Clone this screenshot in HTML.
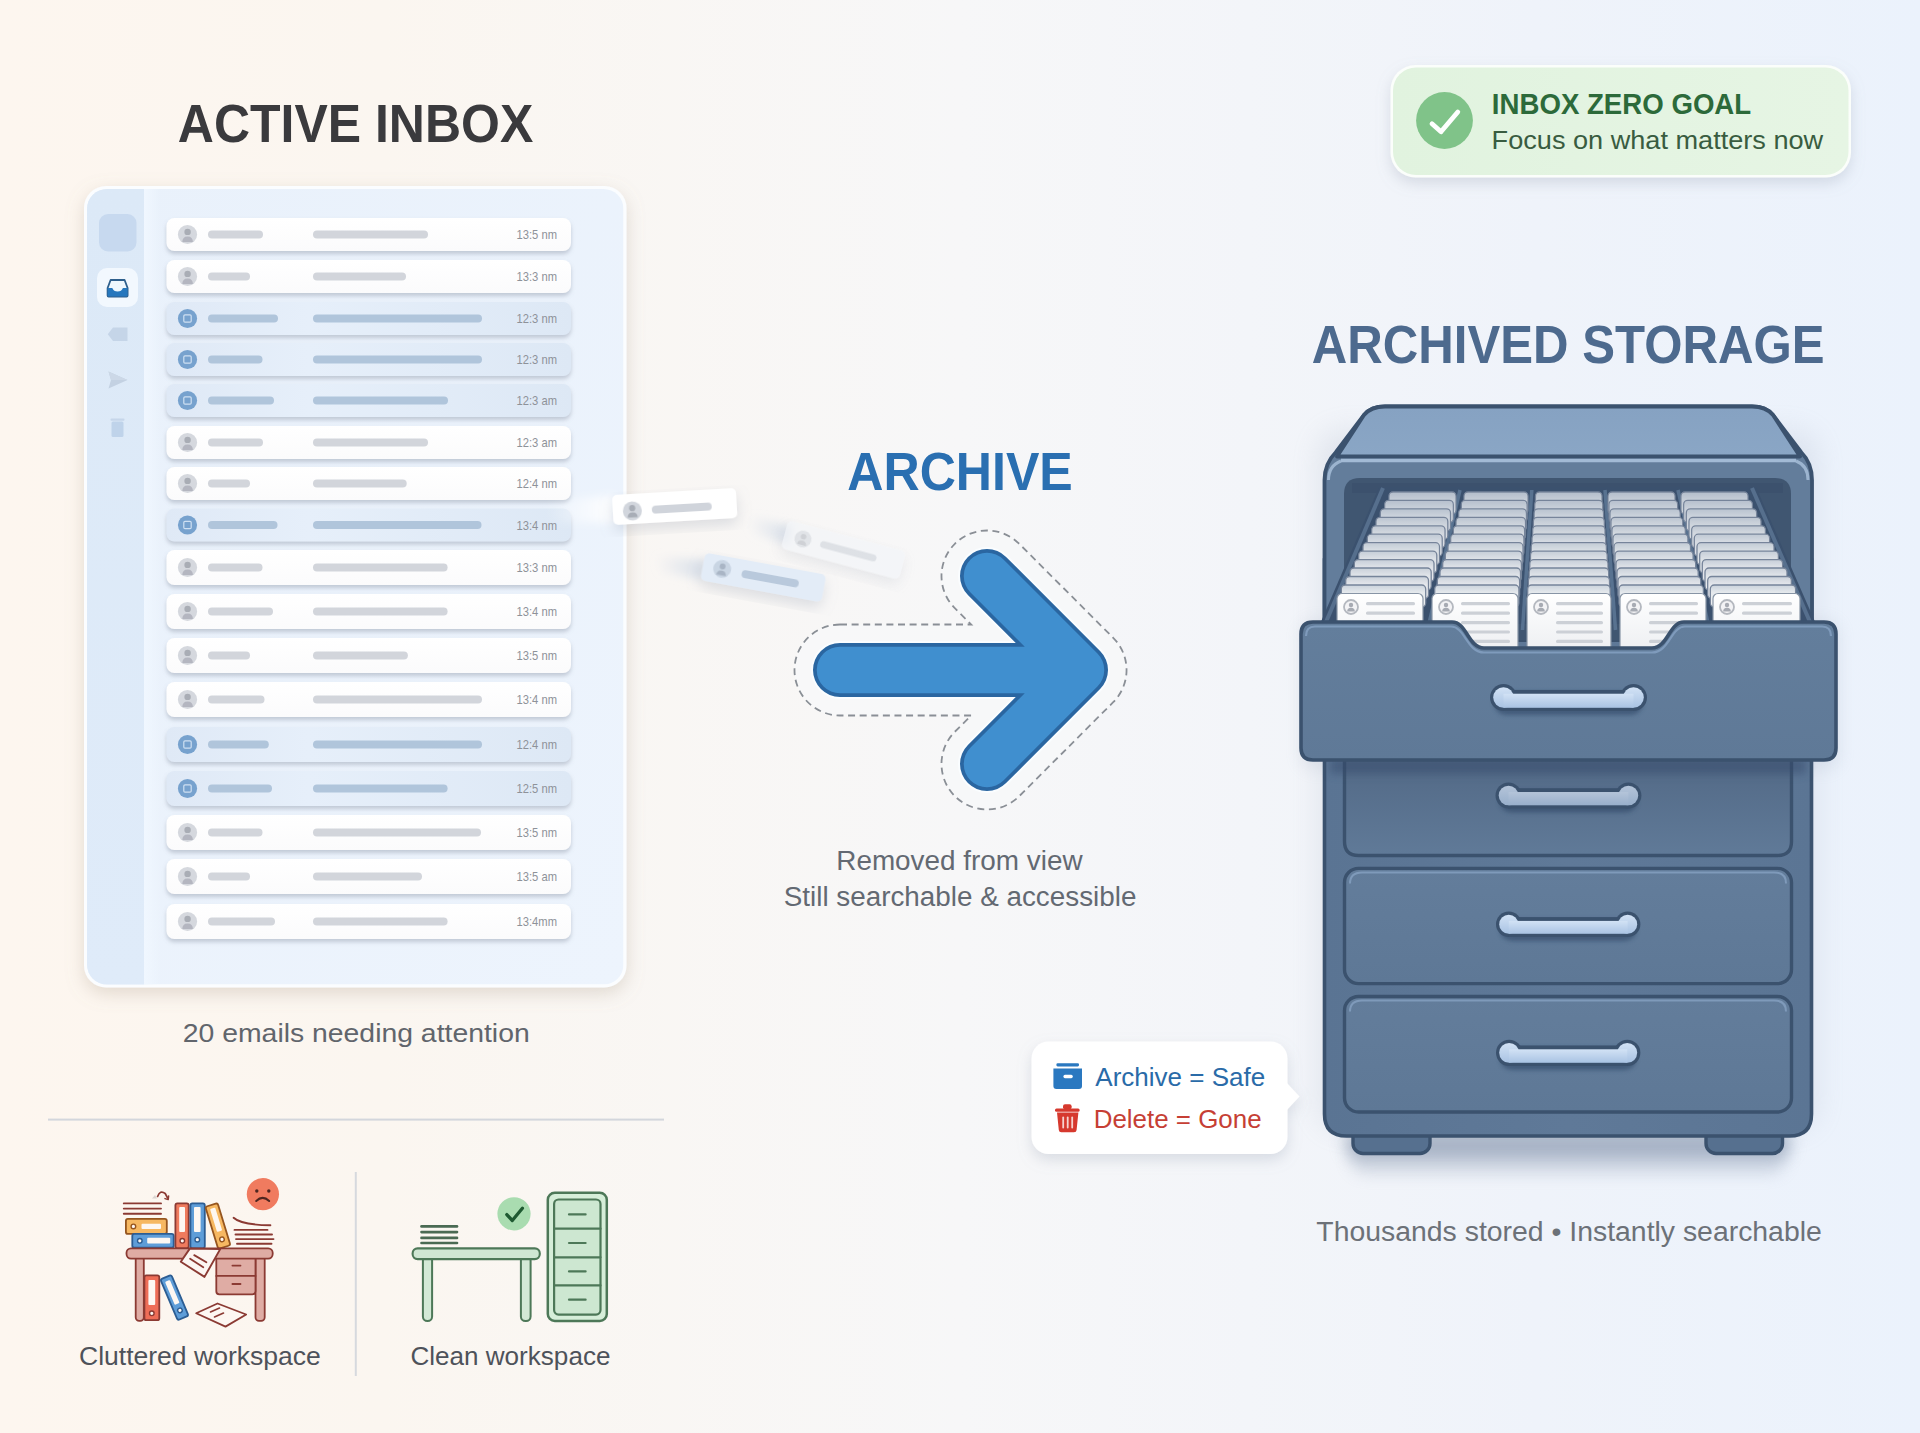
<!DOCTYPE html>
<html><head><meta charset='utf-8'><title>Archive vs Inbox</title>
<style>
html,body{margin:0;padding:0;width:1920px;height:1433px;overflow:hidden;background:#f7f7f8;}
svg{display:block;font-family:'Liberation Sans', sans-serif;}
</style></head><body>
<svg width='1920' height='1433' viewBox='0 0 1920 1433'>
<defs>
<linearGradient id='bg' x1='0' y1='0' x2='1' y2='0'>
 <stop offset='0' stop-color='#fdf6ef'/>
 <stop offset='0.2' stop-color='#fbf6f0'/>
 <stop offset='0.5' stop-color='#f7f7f8'/>
 <stop offset='0.8' stop-color='#eff3fa'/>
 <stop offset='1' stop-color='#ebf2fc'/>
</linearGradient>
<linearGradient id='panelg' x1='0' y1='0' x2='1' y2='1'>
 <stop offset='0' stop-color='#e9f1fb'/>
 <stop offset='1' stop-color='#edf4fd'/>
</linearGradient>
<linearGradient id='rowW' x1='0' y1='0' x2='0' y2='1'>
 <stop offset='0' stop-color='#ffffff'/>
 <stop offset='1' stop-color='#fbfbfc'/>
</linearGradient>
<linearGradient id='rowB' x1='0' y1='0' x2='1' y2='0'>
 <stop offset='0' stop-color='#dfe9f6'/>
 <stop offset='0.35' stop-color='#e6effa'/>
 <stop offset='1' stop-color='#dde8f5'/>
</linearGradient>
<filter id='rowsh' x='-10%' y='-50%' width='120%' height='220%'>
 <feGaussianBlur in='SourceAlpha' stdDeviation='2.2'/>
 <feOffset dy='3' result='b'/>
 <feFlood flood-color='#858fa0' flood-opacity='0.42'/>
 <feComposite in2='b' operator='in'/>
 <feMerge><feMergeNode/><feMergeNode in='SourceGraphic'/></feMerge>
</filter>
<filter id='cardsh' x='-20%' y='-20%' width='140%' height='150%'>
 <feGaussianBlur in='SourceAlpha' stdDeviation='9'/>
 <feOffset dy='6' result='b'/>
 <feFlood flood-color='#a39480' flood-opacity='0.3'/>
 <feComposite in2='b' operator='in'/>
 <feMerge><feMergeNode/><feMergeNode in='SourceGraphic'/></feMerge>
</filter>
<filter id='softsh' x='-20%' y='-30%' width='140%' height='170%'>
 <feGaussianBlur in='SourceAlpha' stdDeviation='7'/>
 <feOffset dy='6' result='b'/>
 <feFlood flood-color='#8f99ab' flood-opacity='0.28'/>
 <feComposite in2='b' operator='in'/>
 <feMerge><feMergeNode/><feMergeNode in='SourceGraphic'/></feMerge>
</filter>
<filter id='blur2' x='-50%' y='-100%' width='200%' height='300%'><feGaussianBlur stdDeviation='2'/></filter>
<filter id='blur4' x='-50%' y='-200%' width='200%' height='500%'><feGaussianBlur stdDeviation='4'/></filter>
<filter id='blur8' x='-50%' y='-200%' width='200%' height='500%'><feGaussianBlur stdDeviation='8'/></filter>
<filter id='blur14' x='-50%' y='-300%' width='200%' height='700%'><feGaussianBlur stdDeviation='14'/></filter>
<linearGradient id='badgeg' x1='0' y1='0' x2='1' y2='0'>
 <stop offset='0' stop-color='#e1f3df'/>
 <stop offset='1' stop-color='#e6f5e4'/>
</linearGradient>
<linearGradient id='lidg' x1='0' y1='0' x2='0' y2='1'>
 <stop offset='0' stop-color='#86a2c2'/>
 <stop offset='1' stop-color='#8aa6c5'/>
</linearGradient>
<linearGradient id='bodyg' x1='0' y1='0' x2='1' y2='0'>
 <stop offset='0' stop-color='#5a7493'/>
 <stop offset='0.5' stop-color='#5f7998'/>
 <stop offset='1' stop-color='#5b7594'/>
</linearGradient>
<linearGradient id='drawg' x1='0' y1='0' x2='0' y2='1'>
 <stop offset='0' stop-color='#637e9c'/>
 <stop offset='1' stop-color='#5f7997'/>
</linearGradient>
<linearGradient id='d2g' x1='0' y1='0' x2='0' y2='1'>
 <stop offset='0' stop-color='#4a5f7b'/>
 <stop offset='1' stop-color='#607a98'/>
</linearGradient>
<linearGradient id='panelD' x1='0' y1='0' x2='0' y2='1'>
 <stop offset='0' stop-color='#637d9b'/>
 <stop offset='1' stop-color='#5e7896'/>
</linearGradient>
<linearGradient id='handleg' x1='0' y1='0' x2='0' y2='1'>
 <stop offset='0' stop-color='#d2e2f5'/>
 <stop offset='1' stop-color='#a9c3e3'/>
</linearGradient>
<linearGradient id='handleg2' x1='0' y1='0' x2='0' y2='1'>
 <stop offset='0' stop-color='#b4c4d9'/>
 <stop offset='1' stop-color='#98afcb'/>
</linearGradient>
<linearGradient id='cardg' x1='0' y1='0' x2='0' y2='1'>
 <stop offset='0' stop-color='#cdd4dd'/>
 <stop offset='0.35' stop-color='#e7eaee'/>
 <stop offset='1' stop-color='#f1f2f4'/>
</linearGradient>
<linearGradient id='frontcard' x1='0' y1='0' x2='0' y2='1'>
 <stop offset='0' stop-color='#ffffff'/>
 <stop offset='1' stop-color='#eceef1'/>
</linearGradient>
<linearGradient id='arrowg' x1='0' y1='0' x2='0' y2='1'>
 <stop offset='0' stop-color='#3f8ed0'/>
 <stop offset='1' stop-color='#3c8bcc'/>
</linearGradient>
</defs>
<rect x='0' y='0' width='1920' height='1433' fill='url(#bg)'/>
<text x='177.81' y='141.7' font-size='53.2' font-weight='bold' fill='#3a3a3d' textLength='355.44' lengthAdjust='spacingAndGlyphs' >ACTIVE INBOX</text>
<g filter='url(#cardsh)'>
<rect x='84' y='186' width='542.5' height='801.5' rx='22' fill='#fbfdff'/>
</g>
<clipPath id='pclip'><rect x='87' y='189' width='536.5' height='795.5' rx='20'/></clipPath>
<g clip-path='url(#pclip)'>
<rect x='87' y='189' width='536.5' height='795.5' fill='url(#panelg)'/>
<linearGradient id='sideg' x1='0' y1='0' x2='0' y2='1'><stop offset='0' stop-color='#dce9f7'/><stop offset='1' stop-color='#dfebf9'/></linearGradient>
<linearGradient id='stripg' x1='0' y1='0' x2='1' y2='0'><stop offset='0' stop-color='#f0f7ff'/><stop offset='1' stop-color='#f0f7ff' stop-opacity='0'/></linearGradient>
<rect x='87' y='189' width='57' height='796' fill='url(#sideg)'/>
<rect x='144' y='189' width='16' height='796' fill='url(#stripg)'/>
</g>
<rect x='99' y='214' width='37.5' height='37.5' rx='9' fill='#c7d9ef'/>
<rect x='97' y='268' width='41' height='39' rx='10' fill='#f2f8fe'/>
<path d='M110.6 280 L124.6 280 L127.6 288 L127.6 295.5 Q127.6 296.5 126.6 296.5 L108.6 296.5 Q107.6 296.5 107.6 295.5 L107.6 288 Z' fill='#eef7fd' stroke='#2e5f8c' stroke-width='1.8' stroke-linejoin='round'/>
<path d='M107.6 288 L112.3 288 Q113.6 291.6 117.6 291.6 Q121.6 291.6 122.9 288 L127.6 288 L127.6 295.5 Q127.6 296.5 126.6 296.5 L108.6 296.5 Q107.6 296.5 107.6 295.5 Z' fill='#2677bd'/>
<path d='M113 327.5 L127.5 327.5 L127.5 341 L113 341 L107.8 334.2 Z' fill='#c5d5e8'/>
<path d='M108.5 371.5 L127.5 380 L108.5 388.5 L111 380 Z' fill='#c3d1e2'/>
<path d='M108.5 371.5 L127.5 380 L111 380 Z' fill='#ccd8e7'/>
<rect x='110.5' y='418.5' width='14' height='2.2' rx='1' fill='#c6d6ea'/>
<rect x='111.5' y='421.5' width='12' height='15.5' rx='1.5' fill='#bfd3ea'/>
<g filter='url(#rowsh)'>
<rect x='166.5' y='218' width='404.5' height='33' rx='8' fill='url(#rowW)'/>
</g>
<circle cx='187.5' cy='234.5' r='9.6' fill='#d5d8de'/>
<circle cx='187.6' cy='231.9' r='3.2' fill='#a9adb5'/>
<path d='M182.3 242.1 Q182.3 236.5 187.6 236.5 Q192.9 236.5 192.9 242.1 Z' fill='#b4b6c0'/>
<rect x='208' y='230.5' width='55' height='8' rx='4' fill='#d2d5db'/>
<rect x='313' y='230.5' width='115' height='8' rx='4' fill='#d2d5db'/>
<text x='557' y='239.1' font-size='12.4' fill='#8e9299' text-anchor='end' textLength='40.5' lengthAdjust='spacingAndGlyphs'>13:5 nm</text>
<g filter='url(#rowsh)'>
<rect x='166.5' y='260' width='404.5' height='33' rx='8' fill='url(#rowW)'/>
</g>
<circle cx='187.5' cy='276.5' r='9.6' fill='#d5d8de'/>
<circle cx='187.6' cy='273.9' r='3.2' fill='#a9adb5'/>
<path d='M182.3 284.1 Q182.3 278.5 187.6 278.5 Q192.9 278.5 192.9 284.1 Z' fill='#b4b6c0'/>
<rect x='208' y='272.5' width='42' height='8' rx='4' fill='#d2d5db'/>
<rect x='313' y='272.5' width='93' height='8' rx='4' fill='#d2d5db'/>
<text x='557' y='281.1' font-size='12.4' fill='#8e9299' text-anchor='end' textLength='40.5' lengthAdjust='spacingAndGlyphs'>13:3 nm</text>
<g filter='url(#rowsh)'>
<rect x='166.5' y='302' width='404.5' height='33' rx='8' fill='url(#rowB)'/>
</g>
<circle cx='187.5' cy='318.5' r='9.6' fill='#77a2ce'/>
<rect x='183.8' y='314.9' width='7.4' height='7.2' rx='1.2' fill='none' stroke='#cfe0f2' stroke-width='1.2'/>
<rect x='208' y='314.5' width='70' height='8' rx='4' fill='#b0c5db'/>
<rect x='313' y='314.5' width='169' height='8' rx='4' fill='#b0c5db'/>
<text x='557' y='323.1' font-size='12.4' fill='#8e9299' text-anchor='end' textLength='40.5' lengthAdjust='spacingAndGlyphs'>12:3 nm</text>
<g filter='url(#rowsh)'>
<rect x='166.5' y='343' width='404.5' height='33' rx='8' fill='url(#rowB)'/>
</g>
<circle cx='187.5' cy='359.5' r='9.6' fill='#77a2ce'/>
<rect x='183.8' y='355.9' width='7.4' height='7.2' rx='1.2' fill='none' stroke='#cfe0f2' stroke-width='1.2'/>
<rect x='208' y='355.5' width='54.5' height='8' rx='4' fill='#b0c5db'/>
<rect x='313' y='355.5' width='169' height='8' rx='4' fill='#b0c5db'/>
<text x='557' y='364.1' font-size='12.4' fill='#8e9299' text-anchor='end' textLength='40.5' lengthAdjust='spacingAndGlyphs'>12:3 nm</text>
<g filter='url(#rowsh)'>
<rect x='166.5' y='384' width='404.5' height='33' rx='8' fill='url(#rowB)'/>
</g>
<circle cx='187.5' cy='400.5' r='9.6' fill='#77a2ce'/>
<rect x='183.8' y='396.9' width='7.4' height='7.2' rx='1.2' fill='none' stroke='#cfe0f2' stroke-width='1.2'/>
<rect x='208' y='396.5' width='66' height='8' rx='4' fill='#b0c5db'/>
<rect x='313' y='396.5' width='135' height='8' rx='4' fill='#b0c5db'/>
<text x='557' y='405.1' font-size='12.4' fill='#8e9299' text-anchor='end' textLength='40.5' lengthAdjust='spacingAndGlyphs'>12:3 am</text>
<g filter='url(#rowsh)'>
<rect x='166.5' y='426' width='404.5' height='33' rx='8' fill='url(#rowW)'/>
</g>
<circle cx='187.5' cy='442.5' r='9.6' fill='#d5d8de'/>
<circle cx='187.6' cy='439.9' r='3.2' fill='#a9adb5'/>
<path d='M182.3 450.1 Q182.3 444.5 187.6 444.5 Q192.9 444.5 192.9 450.1 Z' fill='#b4b6c0'/>
<rect x='208' y='438.5' width='55' height='8' rx='4' fill='#d2d5db'/>
<rect x='313' y='438.5' width='115' height='8' rx='4' fill='#d2d5db'/>
<text x='557' y='447.1' font-size='12.4' fill='#8e9299' text-anchor='end' textLength='40.5' lengthAdjust='spacingAndGlyphs'>12:3 am</text>
<g filter='url(#rowsh)'>
<rect x='166.5' y='467' width='404.5' height='33' rx='8' fill='url(#rowW)'/>
</g>
<circle cx='187.5' cy='483.5' r='9.6' fill='#d5d8de'/>
<circle cx='187.6' cy='480.9' r='3.2' fill='#a9adb5'/>
<path d='M182.3 491.1 Q182.3 485.5 187.6 485.5 Q192.9 485.5 192.9 491.1 Z' fill='#b4b6c0'/>
<rect x='208' y='479.5' width='42' height='8' rx='4' fill='#d2d5db'/>
<rect x='313' y='479.5' width='93.69999999999999' height='8' rx='4' fill='#d2d5db'/>
<text x='557' y='488.1' font-size='12.4' fill='#8e9299' text-anchor='end' textLength='40.5' lengthAdjust='spacingAndGlyphs'>12:4 nm</text>
<g filter='url(#rowsh)'>
<rect x='166.5' y='508.5' width='404.5' height='33' rx='8' fill='url(#rowB)'/>
</g>
<circle cx='187.5' cy='525.0' r='9.6' fill='#77a2ce'/>
<rect x='183.8' y='521.4' width='7.4' height='7.2' rx='1.2' fill='none' stroke='#cfe0f2' stroke-width='1.2'/>
<rect x='208' y='521.0' width='69.5' height='8' rx='4' fill='#b0c5db'/>
<rect x='313' y='521.0' width='168.5' height='8' rx='4' fill='#b0c5db'/>
<text x='557' y='529.6' font-size='12.4' fill='#8e9299' text-anchor='end' textLength='40.5' lengthAdjust='spacingAndGlyphs'>13:4 nm</text>
<g filter='url(#rowsh)'>
<rect x='166.5' y='550' width='404.5' height='35' rx='8' fill='url(#rowW)'/>
</g>
<circle cx='187.5' cy='567.5' r='9.6' fill='#d5d8de'/>
<circle cx='187.6' cy='564.9' r='3.2' fill='#a9adb5'/>
<path d='M182.3 575.1 Q182.3 569.5 187.6 569.5 Q192.9 569.5 192.9 575.1 Z' fill='#b4b6c0'/>
<rect x='208' y='563.5' width='54.5' height='8' rx='4' fill='#d2d5db'/>
<rect x='313' y='563.5' width='134.60000000000002' height='8' rx='4' fill='#d2d5db'/>
<text x='557' y='572.1' font-size='12.4' fill='#8e9299' text-anchor='end' textLength='40.5' lengthAdjust='spacingAndGlyphs'>13:3 nm</text>
<g filter='url(#rowsh)'>
<rect x='166.5' y='594' width='404.5' height='35' rx='8' fill='url(#rowW)'/>
</g>
<circle cx='187.5' cy='611.5' r='9.6' fill='#d5d8de'/>
<circle cx='187.6' cy='608.9' r='3.2' fill='#a9adb5'/>
<path d='M182.3 619.1 Q182.3 613.5 187.6 613.5 Q192.9 613.5 192.9 619.1 Z' fill='#b4b6c0'/>
<rect x='208' y='607.5' width='65' height='8' rx='4' fill='#d2d5db'/>
<rect x='313' y='607.5' width='134.60000000000002' height='8' rx='4' fill='#d2d5db'/>
<text x='557' y='616.1' font-size='12.4' fill='#8e9299' text-anchor='end' textLength='40.5' lengthAdjust='spacingAndGlyphs'>13:4 nm</text>
<g filter='url(#rowsh)'>
<rect x='166.5' y='638' width='404.5' height='35' rx='8' fill='url(#rowW)'/>
</g>
<circle cx='187.5' cy='655.5' r='9.6' fill='#d5d8de'/>
<circle cx='187.6' cy='652.9' r='3.2' fill='#a9adb5'/>
<path d='M182.3 663.1 Q182.3 657.5 187.6 657.5 Q192.9 657.5 192.9 663.1 Z' fill='#b4b6c0'/>
<rect x='208' y='651.5' width='42' height='8' rx='4' fill='#d2d5db'/>
<rect x='313' y='651.5' width='94.89999999999998' height='8' rx='4' fill='#d2d5db'/>
<text x='557' y='660.1' font-size='12.4' fill='#8e9299' text-anchor='end' textLength='40.5' lengthAdjust='spacingAndGlyphs'>13:5 nm</text>
<g filter='url(#rowsh)'>
<rect x='166.5' y='682' width='404.5' height='35' rx='8' fill='url(#rowW)'/>
</g>
<circle cx='187.5' cy='699.5' r='9.6' fill='#d5d8de'/>
<circle cx='187.6' cy='696.9' r='3.2' fill='#a9adb5'/>
<path d='M182.3 707.1 Q182.3 701.5 187.6 701.5 Q192.9 701.5 192.9 707.1 Z' fill='#b4b6c0'/>
<rect x='208' y='695.5' width='56.5' height='8' rx='4' fill='#d2d5db'/>
<rect x='313' y='695.5' width='169' height='8' rx='4' fill='#d2d5db'/>
<text x='557' y='704.1' font-size='12.4' fill='#8e9299' text-anchor='end' textLength='40.5' lengthAdjust='spacingAndGlyphs'>13:4 nm</text>
<g filter='url(#rowsh)'>
<rect x='166.5' y='727' width='404.5' height='35' rx='8' fill='url(#rowB)'/>
</g>
<circle cx='187.5' cy='744.5' r='9.6' fill='#77a2ce'/>
<rect x='183.8' y='740.9' width='7.4' height='7.2' rx='1.2' fill='none' stroke='#cfe0f2' stroke-width='1.2'/>
<rect x='208' y='740.5' width='60.80000000000001' height='8' rx='4' fill='#b0c5db'/>
<rect x='313' y='740.5' width='169' height='8' rx='4' fill='#b0c5db'/>
<text x='557' y='749.1' font-size='12.4' fill='#8e9299' text-anchor='end' textLength='40.5' lengthAdjust='spacingAndGlyphs'>12:4 nm</text>
<g filter='url(#rowsh)'>
<rect x='166.5' y='771' width='404.5' height='35' rx='8' fill='url(#rowB)'/>
</g>
<circle cx='187.5' cy='788.5' r='9.6' fill='#77a2ce'/>
<rect x='183.8' y='784.9' width='7.4' height='7.2' rx='1.2' fill='none' stroke='#cfe0f2' stroke-width='1.2'/>
<rect x='208' y='784.5' width='64' height='8' rx='4' fill='#b0c5db'/>
<rect x='313' y='784.5' width='134.60000000000002' height='8' rx='4' fill='#b0c5db'/>
<text x='557' y='793.1' font-size='12.4' fill='#8e9299' text-anchor='end' textLength='40.5' lengthAdjust='spacingAndGlyphs'>12:5 nm</text>
<g filter='url(#rowsh)'>
<rect x='166.5' y='815' width='404.5' height='35' rx='8' fill='url(#rowW)'/>
</g>
<circle cx='187.5' cy='832.5' r='9.6' fill='#d5d8de'/>
<circle cx='187.6' cy='829.9' r='3.2' fill='#a9adb5'/>
<path d='M182.3 840.1 Q182.3 834.5 187.6 834.5 Q192.9 834.5 192.9 840.1 Z' fill='#b4b6c0'/>
<rect x='208' y='828.5' width='54.5' height='8' rx='4' fill='#d2d5db'/>
<rect x='313' y='828.5' width='168' height='8' rx='4' fill='#d2d5db'/>
<text x='557' y='837.1' font-size='12.4' fill='#8e9299' text-anchor='end' textLength='40.5' lengthAdjust='spacingAndGlyphs'>13:5 nm</text>
<g filter='url(#rowsh)'>
<rect x='166.5' y='859' width='404.5' height='35' rx='8' fill='url(#rowW)'/>
</g>
<circle cx='187.5' cy='876.5' r='9.6' fill='#d5d8de'/>
<circle cx='187.6' cy='873.9' r='3.2' fill='#a9adb5'/>
<path d='M182.3 884.1 Q182.3 878.5 187.6 878.5 Q192.9 878.5 192.9 884.1 Z' fill='#b4b6c0'/>
<rect x='208' y='872.5' width='42' height='8' rx='4' fill='#d2d5db'/>
<rect x='313' y='872.5' width='109' height='8' rx='4' fill='#d2d5db'/>
<text x='557' y='881.1' font-size='12.4' fill='#8e9299' text-anchor='end' textLength='40.5' lengthAdjust='spacingAndGlyphs'>13:5 am</text>
<g filter='url(#rowsh)'>
<rect x='166.5' y='904' width='404.5' height='35' rx='8' fill='url(#rowW)'/>
</g>
<circle cx='187.5' cy='921.5' r='9.6' fill='#d5d8de'/>
<circle cx='187.6' cy='918.9' r='3.2' fill='#a9adb5'/>
<path d='M182.3 929.1 Q182.3 923.5 187.6 923.5 Q192.9 923.5 192.9 929.1 Z' fill='#b4b6c0'/>
<rect x='208' y='917.5' width='67' height='8' rx='4' fill='#d2d5db'/>
<rect x='313' y='917.5' width='134.60000000000002' height='8' rx='4' fill='#d2d5db'/>
<text x='557' y='926.1' font-size='12.4' fill='#8e9299' text-anchor='end' textLength='40.5' lengthAdjust='spacingAndGlyphs'>13:4mm</text>
<text x='182.81' y='1041.8' font-size='26' font-weight='normal' fill='#61656c' textLength='346.89' lengthAdjust='spacingAndGlyphs' >20 emails needing attention</text>
<rect x='48' y='1118.6' width='616' height='2' fill='#d3d6dc'/>
<rect x='354.8' y='1172' width='2' height='204' fill='#d6d9de'/>
<text x='78.98' y='1365' font-size='26' font-weight='normal' fill='#4e525a' textLength='241.84' lengthAdjust='spacingAndGlyphs' >Cluttered workspace</text>
<text x='410.4' y='1365' font-size='26' font-weight='normal' fill='#4e525a' textLength='200.04' lengthAdjust='spacingAndGlyphs' >Clean workspace</text>
<linearGradient id='tr1' x1='0' y1='0' x2='1' y2='0'><stop offset='0' stop-color='#ffffff' stop-opacity='0'/><stop offset='1' stop-color='#ffffff' stop-opacity='0.95'/></linearGradient>
<linearGradient id='tr2' x1='0' y1='0' x2='1' y2='0'><stop offset='0' stop-color='#d5dde8' stop-opacity='0'/><stop offset='1' stop-color='#d5dde8' stop-opacity='0.9'/></linearGradient>
<g filter='url(#blur4)'>
<path d='M548 502 L614 495 L616 523 L552 522 Z' fill='url(#tr1)'/>
<path d='M655 556 L706 560 L703 580 L660 572 Z' fill='url(#tr2)'/>
<path d='M748 516 L792 526 L788 545 L752 533 Z' fill='url(#tr2)'/>
</g>
<g transform='translate(843.5 550) rotate(15) ' opacity='0.6' filter='url(#softsh)'>
<rect x='-61' y='-14.5' width='122' height='29' rx='5' fill='#f2f5f9'/>
<circle cx='-42' cy='0' r='8.5' fill='#d3d8df'/>
<circle cx='-42' cy='-2.5' r='2.8' fill='#b4b9c1'/>
<path d='M-46.5 6 Q-46.5 1.5 -42 1.5 Q-37.5 1.5 -37.5 6 Z' fill='#b4b9c1'/>
<rect x='-24' y='-3.5' width='58' height='7' rx='3.5' fill='#cdd3db'/>
</g>
<g transform='translate(763.3 577.5) rotate(10.4)' filter='url(#softsh)'>
<rect x='-61.5' y='-14' width='123' height='28' rx='5' fill='#e3ecf7'/>
<circle cx='-42' cy='-1' r='9' fill='#c9d5e3'/>
<circle cx='-42' cy='-3.5' r='3' fill='#a9b5c5'/>
<path d='M-46.8 5.5 Q-46.8 0.8 -42 0.8 Q-37.2 0.8 -37.2 5.5 Z' fill='#a9b5c5'/>
<rect x='-22' y='-4' width='58' height='8' rx='4' fill='#b9c9dc'/>
</g>
<g transform='translate(674.7 506.5) rotate(-3.3)' filter='url(#softsh)'>
<rect x='-62' y='-15' width='124' height='30' rx='5' fill='#ffffff'/>
<circle cx='-42.5' cy='2' r='9.5' fill='#d2d6dd'/>
<circle cx='-42.5' cy='-0.8' r='3.1' fill='#a8adb6'/>
<path d='M-47.5 8.5 Q-47.5 3.5 -42.5 3.5 Q-37.5 3.5 -37.5 8.5 Z' fill='#a8adb6'/>
<rect x='-23' y='-2' width='60' height='8' rx='4' fill='#d0d4db'/>
</g>
<text x='847.37' y='490.1' font-size='53.9' font-weight='bold' fill='#2a6fb1' textLength='225.4' lengthAdjust='spacingAndGlyphs' >ARCHIVE</text>
<path d='M840.0 624.5 L971.2 624.5 L954.8 608.2 A45.5 45.5 0 0 1 1019.2 543.8 L1113.2 637.8 A45.5 45.5 0 0 1 1113.2 702.2 L1019.2 796.2 A45.5 45.5 0 0 1 954.8 731.8 L971.2 715.5 L840.0 715.5 A45.5 45.5 0 0 1 840.0 624.5 Z' fill='#f8f9fa' stroke='#858a91' stroke-width='1.8' stroke-dasharray='7 4.6' opacity='0.95'/>
<path d='M840.0 670.0 L1081.0 670.0 M987.0 576.0 L1081.0 670.0 L987.0 764.0' fill='none' stroke='#fafdff' stroke-width='58' stroke-linecap='round' stroke-linejoin='round'/>
<path d='M840.0 670.0 L1081.0 670.0 M987.0 576.0 L1081.0 670.0 L987.0 764.0' fill='none' stroke='#2a66a1' stroke-width='54' stroke-linecap='round' stroke-linejoin='round'/>
<path d='M840.0 670.0 L1081.0 670.0 M987.0 576.0 L1081.0 670.0 L987.0 764.0' fill='none' stroke='#408fcf' stroke-width='46.5' stroke-linecap='round' stroke-linejoin='round'/>
<text x='836.25' y='870.1' font-size='27.2' font-weight='normal' fill='#636972' textLength='246.29' lengthAdjust='spacingAndGlyphs' >Removed from view</text>
<text x='783.76' y='905.9' font-size='26.8' font-weight='normal' fill='#636972' textLength='352.66' lengthAdjust='spacingAndGlyphs' >Still searchable &amp; accessible</text>
<g filter='url(#softsh)'>
<rect x='1390.5' y='65' width='460.5' height='112.5' rx='25' fill='#fbfefb'/>
</g>
<rect x='1393' y='67.5' width='455.5' height='107.5' rx='23' fill='url(#badgeg)'/>
<circle cx='1444.5' cy='120.5' r='28.4' fill='#80c389'/>
<path d='M1432 123.8 L1441 131.8 L1457.8 112' fill='none' stroke='#ffffff' stroke-width='4.8' stroke-linecap='round' stroke-linejoin='round'/>
<text x='1491.82' y='114.25' font-size='28.6' font-weight='bold' fill='#2c6a3a' textLength='259.4' lengthAdjust='spacingAndGlyphs' >INBOX ZERO GOAL</text>
<text x='1491.61' y='148.75' font-size='25.4' font-weight='normal' fill='#395c40' textLength='331.57' lengthAdjust='spacingAndGlyphs' >Focus on what matters now</text>
<text x='1311.77' y='362.9' font-size='53' font-weight='bold' fill='#4d6a8e' textLength='512.76' lengthAdjust='spacingAndGlyphs' >ARCHIVED STORAGE</text>
<rect x='1345' y='1128' width='446' height='30' rx='14' fill='#7f8fa8' opacity='0.55' filter='url(#blur8)'/>
<rect x='1350' y='1140' width='436' height='34' rx='16' fill='#8d9bb2' opacity='0.3' filter='url(#blur8)'/>
<rect x='1318' y='430' width='500' height='700' rx='24' fill='#8b98ad' opacity='0.16' filter='url(#blur14)'/>
<rect x='1300' y='620' width='540' height='150' rx='14' fill='#8b98ad' opacity='0.16' filter='url(#blur8)'/>
<rect x='1353' y='1126' width='77' height='27.5' rx='10' fill='#56708f' stroke='#3b526e' stroke-width='3.4'/>
<rect x='1706' y='1126' width='76.5' height='27.5' rx='10' fill='#56708f' stroke='#3b526e' stroke-width='3.4'/>
<path d='M1324.5 560 L1811.5 560 L1811.5 1114 Q1811.5 1136 1789.5 1136 L1346.5 1136 Q1324.5 1136 1324.5 1114 Z' fill='url(#bodyg)' stroke='#3b526e' stroke-width='3.6'/>
<path d='M1324.5 640 L1324.5 480 C1324.5 468 1328 460 1336 452 L1364 415 C1369 409 1375 406.5 1385 406.5 L1752 406.5 C1762 406.5 1768 409 1773 415 L1801 452 C1809 460 1812 468 1812 480 L1812 640 Z' fill='#637d9b' stroke='#3b526e' stroke-width='3.8' stroke-linejoin='round'/>
<path d='M1337 456.5 L1364 415 C1369 409 1375 406.5 1385 406.5 L1752 406.5 C1762 406.5 1768 409 1773 415 L1800 456.5 Z' fill='url(#lidg)' stroke='#3b526e' stroke-width='3.8' stroke-linejoin='round'/>
<path d='M1341 460.5 L1796 460.5' stroke='#a2bad5' stroke-width='3.4'/>
<path d='M1328.5 480 C1328.5 470 1333 464 1341 461' stroke='#a2bad5' stroke-width='3' fill='none' opacity='0.9'/>
<path d='M1808 480 C1808 470 1804 464 1796 461' stroke='#a2bad5' stroke-width='3' fill='none' opacity='0.9'/>
<path d='M1344 640 L1344 494 Q1344 478 1360 478 L1775 478 Q1791 478 1791 494 L1791 640 Z' fill='#405671'/>
<path d='M1352 488 L1783 488' stroke='#3a4f6b' stroke-width='10' opacity='0.6'/>
<path d='M1379 487 L1756 487 L1816 624 L1320 624 Z' fill='#3b516e'/>
<path d='M1383 488 L1326 622' stroke='#566f8d' stroke-width='4'/>
<path d='M1752 488 L1810 622' stroke='#566f8d' stroke-width='4'/>
<path d='M1460.0 490 L1427.5 630' stroke='#587290' stroke-width='3.5'/>
<path d='M1531.8 490 L1522.5 630' stroke='#587290' stroke-width='3.5'/>
<path d='M1605.0 490 L1615.5 630' stroke='#587290' stroke-width='3.5'/>
<path d='M1678.0 490 L1709.5 630' stroke='#587290' stroke-width='3.5'/>
<rect x='1389.0' y='492.0' width='67.0' height='22' rx='4' fill='url(#cardg)' stroke='#76849a' stroke-width='1.3'/>
<rect x='1389.7' y='492.7' width='65.6' height='20.6' rx='3.5' fill='#7d8fa6' opacity='0.320'/>
<rect x='1384.7' y='500.4' width='68.6' height='22' rx='4' fill='url(#cardg)' stroke='#76849a' stroke-width='1.3'/>
<rect x='1385.4' y='501.1' width='67.2' height='20.6' rx='3.5' fill='#7d8fa6' opacity='0.286'/>
<rect x='1380.3' y='508.9' width='70.2' height='22' rx='4' fill='url(#cardg)' stroke='#76849a' stroke-width='1.3'/>
<rect x='1381.0' y='509.6' width='68.8' height='20.6' rx='3.5' fill='#7d8fa6' opacity='0.252'/>
<rect x='1376.0' y='517.4' width='71.8' height='22' rx='4' fill='url(#cardg)' stroke='#76849a' stroke-width='1.3'/>
<rect x='1376.7' y='518.1' width='70.3' height='20.6' rx='3.5' fill='#7d8fa6' opacity='0.220'/>
<rect x='1371.7' y='525.8' width='73.3' height='22' rx='4' fill='url(#cardg)' stroke='#76849a' stroke-width='1.3'/>
<rect x='1372.4' y='526.5' width='71.9' height='20.6' rx='3.5' fill='#7d8fa6' opacity='0.189'/>
<rect x='1367.3' y='534.2' width='74.9' height='22' rx='4' fill='url(#cardg)' stroke='#76849a' stroke-width='1.3'/>
<rect x='1368.0' y='535.0' width='73.5' height='20.6' rx='3.5' fill='#7d8fa6' opacity='0.159'/>
<rect x='1363.0' y='542.7' width='76.5' height='22' rx='4' fill='url(#cardg)' stroke='#76849a' stroke-width='1.3'/>
<rect x='1363.7' y='543.4' width='75.1' height='20.6' rx='3.5' fill='#7d8fa6' opacity='0.130'/>
<rect x='1358.7' y='551.1' width='78.1' height='22' rx='4' fill='url(#cardg)' stroke='#76849a' stroke-width='1.3'/>
<rect x='1359.4' y='551.9' width='76.7' height='20.6' rx='3.5' fill='#7d8fa6' opacity='0.103'/>
<rect x='1354.3' y='559.6' width='79.7' height='22' rx='4' fill='url(#cardg)' stroke='#76849a' stroke-width='1.3'/>
<rect x='1355.0' y='560.3' width='78.3' height='20.6' rx='3.5' fill='#7d8fa6' opacity='0.077'/>
<rect x='1350.0' y='568.0' width='81.2' height='22' rx='4' fill='url(#cardg)' stroke='#76849a' stroke-width='1.3'/>
<rect x='1350.7' y='568.8' width='79.8' height='20.6' rx='3.5' fill='#7d8fa6' opacity='0.053'/>
<rect x='1345.7' y='576.5' width='82.8' height='22' rx='4' fill='url(#cardg)' stroke='#76849a' stroke-width='1.3'/>
<rect x='1346.4' y='577.2' width='81.4' height='20.6' rx='3.5' fill='#7d8fa6' opacity='0.031'/>
<rect x='1341.3' y='585.0' width='84.4' height='22' rx='4' fill='url(#cardg)' stroke='#76849a' stroke-width='1.3'/>
<rect x='1342.0' y='585.7' width='83.0' height='20.6' rx='3.5' fill='#7d8fa6' opacity='0.013'/>
<rect x='1337' y='593.5' width='86' height='62' rx='5' fill='url(#frontcard)' stroke='#8794a5' stroke-width='1.2'/>
<circle cx='1351' cy='607' r='7' fill='#f3f3f5' stroke='#b4b8bf' stroke-width='1.8'/>
<circle cx='1351' cy='605' r='2.2' fill='#a7abb3'/>
<path d='M1347.2 611.5 Q1347.2 607.8 1351 607.8 Q1354.8 607.8 1354.8 611.5 Z' fill='#a7abb3'/>
<rect x='1366' y='602.1' width='49' height='3.2' rx='1.5' fill='#ccd0d6'/>
<rect x='1366' y='611.6' width='49' height='3.2' rx='1.5' fill='#ccd0d6'/>
<rect x='1366' y='621.0' width='49' height='3.2' rx='1.5' fill='#ccd0d6'/>
<rect x='1366' y='630.4' width='49' height='3.2' rx='1.5' fill='#ccd0d6'/>
<rect x='1366' y='639.8' width='49' height='3.2' rx='1.5' fill='#ccd0d6'/>
<rect x='1464.0' y='492.0' width='64.0' height='22' rx='4' fill='url(#cardg)' stroke='#76849a' stroke-width='1.3'/>
<rect x='1464.7' y='492.7' width='62.6' height='20.6' rx='3.5' fill='#7d8fa6' opacity='0.320'/>
<rect x='1461.3' y='500.4' width='65.8' height='22' rx='4' fill='url(#cardg)' stroke='#76849a' stroke-width='1.3'/>
<rect x='1462.0' y='501.1' width='64.4' height='20.6' rx='3.5' fill='#7d8fa6' opacity='0.286'/>
<rect x='1458.7' y='508.9' width='67.7' height='22' rx='4' fill='url(#cardg)' stroke='#76849a' stroke-width='1.3'/>
<rect x='1459.4' y='509.6' width='66.3' height='20.6' rx='3.5' fill='#7d8fa6' opacity='0.252'/>
<rect x='1456.0' y='517.4' width='69.5' height='22' rx='4' fill='url(#cardg)' stroke='#76849a' stroke-width='1.3'/>
<rect x='1456.7' y='518.1' width='68.1' height='20.6' rx='3.5' fill='#7d8fa6' opacity='0.220'/>
<rect x='1453.3' y='525.8' width='71.3' height='22' rx='4' fill='url(#cardg)' stroke='#76849a' stroke-width='1.3'/>
<rect x='1454.0' y='526.5' width='69.9' height='20.6' rx='3.5' fill='#7d8fa6' opacity='0.189'/>
<rect x='1450.7' y='534.2' width='73.2' height='22' rx='4' fill='url(#cardg)' stroke='#76849a' stroke-width='1.3'/>
<rect x='1451.4' y='535.0' width='71.8' height='20.6' rx='3.5' fill='#7d8fa6' opacity='0.159'/>
<rect x='1448.0' y='542.7' width='75.0' height='22' rx='4' fill='url(#cardg)' stroke='#76849a' stroke-width='1.3'/>
<rect x='1448.7' y='543.4' width='73.6' height='20.6' rx='3.5' fill='#7d8fa6' opacity='0.130'/>
<rect x='1445.3' y='551.1' width='76.8' height='22' rx='4' fill='url(#cardg)' stroke='#76849a' stroke-width='1.3'/>
<rect x='1446.0' y='551.9' width='75.4' height='20.6' rx='3.5' fill='#7d8fa6' opacity='0.103'/>
<rect x='1442.7' y='559.6' width='78.7' height='22' rx='4' fill='url(#cardg)' stroke='#76849a' stroke-width='1.3'/>
<rect x='1443.4' y='560.3' width='77.3' height='20.6' rx='3.5' fill='#7d8fa6' opacity='0.077'/>
<rect x='1440.0' y='568.0' width='80.5' height='22' rx='4' fill='url(#cardg)' stroke='#76849a' stroke-width='1.3'/>
<rect x='1440.7' y='568.8' width='79.1' height='20.6' rx='3.5' fill='#7d8fa6' opacity='0.053'/>
<rect x='1437.3' y='576.5' width='82.3' height='22' rx='4' fill='url(#cardg)' stroke='#76849a' stroke-width='1.3'/>
<rect x='1438.0' y='577.2' width='80.9' height='20.6' rx='3.5' fill='#7d8fa6' opacity='0.031'/>
<rect x='1434.7' y='585.0' width='84.2' height='22' rx='4' fill='url(#cardg)' stroke='#76849a' stroke-width='1.3'/>
<rect x='1435.4' y='585.7' width='82.8' height='20.6' rx='3.5' fill='#7d8fa6' opacity='0.013'/>
<rect x='1432' y='593.5' width='86' height='62' rx='5' fill='url(#frontcard)' stroke='#8794a5' stroke-width='1.2'/>
<circle cx='1446' cy='607' r='7' fill='#f3f3f5' stroke='#b4b8bf' stroke-width='1.8'/>
<circle cx='1446' cy='605' r='2.2' fill='#a7abb3'/>
<path d='M1442.2 611.5 Q1442.2 607.8 1446 607.8 Q1449.8 607.8 1449.8 611.5 Z' fill='#a7abb3'/>
<rect x='1461' y='602.1' width='49' height='3.2' rx='1.5' fill='#ccd0d6'/>
<rect x='1461' y='611.6' width='49' height='3.2' rx='1.5' fill='#ccd0d6'/>
<rect x='1461' y='621.0' width='49' height='3.2' rx='1.5' fill='#ccd0d6'/>
<rect x='1461' y='630.4' width='49' height='3.2' rx='1.5' fill='#ccd0d6'/>
<rect x='1461' y='639.8' width='49' height='3.2' rx='1.5' fill='#ccd0d6'/>
<rect x='1535.5' y='492.0' width='66.5' height='22' rx='4' fill='url(#cardg)' stroke='#76849a' stroke-width='1.3'/>
<rect x='1536.2' y='492.7' width='65.1' height='20.6' rx='3.5' fill='#7d8fa6' opacity='0.320'/>
<rect x='1534.8' y='500.4' width='68.0' height='22' rx='4' fill='url(#cardg)' stroke='#76849a' stroke-width='1.3'/>
<rect x='1535.5' y='501.1' width='66.6' height='20.6' rx='3.5' fill='#7d8fa6' opacity='0.286'/>
<rect x='1534.1' y='508.9' width='69.4' height='22' rx='4' fill='url(#cardg)' stroke='#76849a' stroke-width='1.3'/>
<rect x='1534.8' y='509.6' width='68.0' height='20.6' rx='3.5' fill='#7d8fa6' opacity='0.252'/>
<rect x='1533.4' y='517.4' width='70.9' height='22' rx='4' fill='url(#cardg)' stroke='#76849a' stroke-width='1.3'/>
<rect x='1534.1' y='518.1' width='69.5' height='20.6' rx='3.5' fill='#7d8fa6' opacity='0.220'/>
<rect x='1532.7' y='525.8' width='72.3' height='22' rx='4' fill='url(#cardg)' stroke='#76849a' stroke-width='1.3'/>
<rect x='1533.4' y='526.5' width='70.9' height='20.6' rx='3.5' fill='#7d8fa6' opacity='0.189'/>
<rect x='1532.0' y='534.2' width='73.8' height='22' rx='4' fill='url(#cardg)' stroke='#76849a' stroke-width='1.3'/>
<rect x='1532.7' y='535.0' width='72.4' height='20.6' rx='3.5' fill='#7d8fa6' opacity='0.159'/>
<rect x='1531.2' y='542.7' width='75.2' height='22' rx='4' fill='url(#cardg)' stroke='#76849a' stroke-width='1.3'/>
<rect x='1532.0' y='543.4' width='73.8' height='20.6' rx='3.5' fill='#7d8fa6' opacity='0.130'/>
<rect x='1530.5' y='551.1' width='76.7' height='22' rx='4' fill='url(#cardg)' stroke='#76849a' stroke-width='1.3'/>
<rect x='1531.2' y='551.9' width='75.3' height='20.6' rx='3.5' fill='#7d8fa6' opacity='0.103'/>
<rect x='1529.8' y='559.6' width='78.2' height='22' rx='4' fill='url(#cardg)' stroke='#76849a' stroke-width='1.3'/>
<rect x='1530.5' y='560.3' width='76.8' height='20.6' rx='3.5' fill='#7d8fa6' opacity='0.077'/>
<rect x='1529.1' y='568.0' width='79.6' height='22' rx='4' fill='url(#cardg)' stroke='#76849a' stroke-width='1.3'/>
<rect x='1529.8' y='568.8' width='78.2' height='20.6' rx='3.5' fill='#7d8fa6' opacity='0.053'/>
<rect x='1528.4' y='576.5' width='81.1' height='22' rx='4' fill='url(#cardg)' stroke='#76849a' stroke-width='1.3'/>
<rect x='1529.1' y='577.2' width='79.7' height='20.6' rx='3.5' fill='#7d8fa6' opacity='0.031'/>
<rect x='1527.7' y='585.0' width='82.5' height='22' rx='4' fill='url(#cardg)' stroke='#76849a' stroke-width='1.3'/>
<rect x='1528.4' y='585.7' width='81.1' height='20.6' rx='3.5' fill='#7d8fa6' opacity='0.013'/>
<rect x='1527' y='593.5' width='84' height='62' rx='5' fill='url(#frontcard)' stroke='#8794a5' stroke-width='1.2'/>
<circle cx='1541' cy='607' r='7' fill='#f3f3f5' stroke='#b4b8bf' stroke-width='1.8'/>
<circle cx='1541' cy='605' r='2.2' fill='#a7abb3'/>
<path d='M1537.2 611.5 Q1537.2 607.8 1541 607.8 Q1544.8 607.8 1544.8 611.5 Z' fill='#a7abb3'/>
<rect x='1556' y='602.1' width='47' height='3.2' rx='1.5' fill='#ccd0d6'/>
<rect x='1556' y='611.6' width='47' height='3.2' rx='1.5' fill='#ccd0d6'/>
<rect x='1556' y='621.0' width='47' height='3.2' rx='1.5' fill='#ccd0d6'/>
<rect x='1556' y='630.4' width='47' height='3.2' rx='1.5' fill='#ccd0d6'/>
<rect x='1556' y='639.8' width='47' height='3.2' rx='1.5' fill='#ccd0d6'/>
<rect x='1608.0' y='492.0' width='67.0' height='22' rx='4' fill='url(#cardg)' stroke='#76849a' stroke-width='1.3'/>
<rect x='1608.7' y='492.7' width='65.6' height='20.6' rx='3.5' fill='#7d8fa6' opacity='0.320'/>
<rect x='1609.0' y='500.4' width='68.6' height='22' rx='4' fill='url(#cardg)' stroke='#76849a' stroke-width='1.3'/>
<rect x='1609.7' y='501.1' width='67.2' height='20.6' rx='3.5' fill='#7d8fa6' opacity='0.286'/>
<rect x='1610.0' y='508.9' width='70.2' height='22' rx='4' fill='url(#cardg)' stroke='#76849a' stroke-width='1.3'/>
<rect x='1610.7' y='509.6' width='68.8' height='20.6' rx='3.5' fill='#7d8fa6' opacity='0.252'/>
<rect x='1611.0' y='517.4' width='71.8' height='22' rx='4' fill='url(#cardg)' stroke='#76849a' stroke-width='1.3'/>
<rect x='1611.7' y='518.1' width='70.3' height='20.6' rx='3.5' fill='#7d8fa6' opacity='0.220'/>
<rect x='1612.0' y='525.8' width='73.3' height='22' rx='4' fill='url(#cardg)' stroke='#76849a' stroke-width='1.3'/>
<rect x='1612.7' y='526.5' width='71.9' height='20.6' rx='3.5' fill='#7d8fa6' opacity='0.189'/>
<rect x='1613.0' y='534.2' width='74.9' height='22' rx='4' fill='url(#cardg)' stroke='#76849a' stroke-width='1.3'/>
<rect x='1613.7' y='535.0' width='73.5' height='20.6' rx='3.5' fill='#7d8fa6' opacity='0.159'/>
<rect x='1614.0' y='542.7' width='76.5' height='22' rx='4' fill='url(#cardg)' stroke='#76849a' stroke-width='1.3'/>
<rect x='1614.7' y='543.4' width='75.1' height='20.6' rx='3.5' fill='#7d8fa6' opacity='0.130'/>
<rect x='1615.0' y='551.1' width='78.1' height='22' rx='4' fill='url(#cardg)' stroke='#76849a' stroke-width='1.3'/>
<rect x='1615.7' y='551.9' width='76.7' height='20.6' rx='3.5' fill='#7d8fa6' opacity='0.103'/>
<rect x='1616.0' y='559.6' width='79.7' height='22' rx='4' fill='url(#cardg)' stroke='#76849a' stroke-width='1.3'/>
<rect x='1616.7' y='560.3' width='78.3' height='20.6' rx='3.5' fill='#7d8fa6' opacity='0.077'/>
<rect x='1617.0' y='568.0' width='81.2' height='22' rx='4' fill='url(#cardg)' stroke='#76849a' stroke-width='1.3'/>
<rect x='1617.7' y='568.8' width='79.8' height='20.6' rx='3.5' fill='#7d8fa6' opacity='0.053'/>
<rect x='1618.0' y='576.5' width='82.8' height='22' rx='4' fill='url(#cardg)' stroke='#76849a' stroke-width='1.3'/>
<rect x='1618.7' y='577.2' width='81.4' height='20.6' rx='3.5' fill='#7d8fa6' opacity='0.031'/>
<rect x='1619.0' y='585.0' width='84.4' height='22' rx='4' fill='url(#cardg)' stroke='#76849a' stroke-width='1.3'/>
<rect x='1619.7' y='585.7' width='83.0' height='20.6' rx='3.5' fill='#7d8fa6' opacity='0.013'/>
<rect x='1620' y='593.5' width='86' height='62' rx='5' fill='url(#frontcard)' stroke='#8794a5' stroke-width='1.2'/>
<circle cx='1634' cy='607' r='7' fill='#f3f3f5' stroke='#b4b8bf' stroke-width='1.8'/>
<circle cx='1634' cy='605' r='2.2' fill='#a7abb3'/>
<path d='M1630.2 611.5 Q1630.2 607.8 1634 607.8 Q1637.8 607.8 1637.8 611.5 Z' fill='#a7abb3'/>
<rect x='1649' y='602.1' width='49' height='3.2' rx='1.5' fill='#ccd0d6'/>
<rect x='1649' y='611.6' width='49' height='3.2' rx='1.5' fill='#ccd0d6'/>
<rect x='1649' y='621.0' width='49' height='3.2' rx='1.5' fill='#ccd0d6'/>
<rect x='1649' y='630.4' width='49' height='3.2' rx='1.5' fill='#ccd0d6'/>
<rect x='1649' y='639.8' width='49' height='3.2' rx='1.5' fill='#ccd0d6'/>
<rect x='1681.0' y='492.0' width='67.0' height='22' rx='4' fill='url(#cardg)' stroke='#76849a' stroke-width='1.3'/>
<rect x='1681.7' y='492.7' width='65.6' height='20.6' rx='3.5' fill='#7d8fa6' opacity='0.320'/>
<rect x='1683.7' y='500.4' width='68.7' height='22' rx='4' fill='url(#cardg)' stroke='#76849a' stroke-width='1.3'/>
<rect x='1684.4' y='501.1' width='67.3' height='20.6' rx='3.5' fill='#7d8fa6' opacity='0.286'/>
<rect x='1686.3' y='508.9' width='70.3' height='22' rx='4' fill='url(#cardg)' stroke='#76849a' stroke-width='1.3'/>
<rect x='1687.0' y='509.6' width='68.9' height='20.6' rx='3.5' fill='#7d8fa6' opacity='0.252'/>
<rect x='1689.0' y='517.4' width='72.0' height='22' rx='4' fill='url(#cardg)' stroke='#76849a' stroke-width='1.3'/>
<rect x='1689.7' y='518.1' width='70.6' height='20.6' rx='3.5' fill='#7d8fa6' opacity='0.220'/>
<rect x='1691.7' y='525.8' width='73.7' height='22' rx='4' fill='url(#cardg)' stroke='#76849a' stroke-width='1.3'/>
<rect x='1692.4' y='526.5' width='72.3' height='20.6' rx='3.5' fill='#7d8fa6' opacity='0.189'/>
<rect x='1694.3' y='534.2' width='75.3' height='22' rx='4' fill='url(#cardg)' stroke='#76849a' stroke-width='1.3'/>
<rect x='1695.0' y='535.0' width='73.9' height='20.6' rx='3.5' fill='#7d8fa6' opacity='0.159'/>
<rect x='1697.0' y='542.7' width='77.0' height='22' rx='4' fill='url(#cardg)' stroke='#76849a' stroke-width='1.3'/>
<rect x='1697.7' y='543.4' width='75.6' height='20.6' rx='3.5' fill='#7d8fa6' opacity='0.130'/>
<rect x='1699.7' y='551.1' width='78.7' height='22' rx='4' fill='url(#cardg)' stroke='#76849a' stroke-width='1.3'/>
<rect x='1700.4' y='551.9' width='77.3' height='20.6' rx='3.5' fill='#7d8fa6' opacity='0.103'/>
<rect x='1702.3' y='559.6' width='80.3' height='22' rx='4' fill='url(#cardg)' stroke='#76849a' stroke-width='1.3'/>
<rect x='1703.0' y='560.3' width='78.9' height='20.6' rx='3.5' fill='#7d8fa6' opacity='0.077'/>
<rect x='1705.0' y='568.0' width='82.0' height='22' rx='4' fill='url(#cardg)' stroke='#76849a' stroke-width='1.3'/>
<rect x='1705.7' y='568.8' width='80.6' height='20.6' rx='3.5' fill='#7d8fa6' opacity='0.053'/>
<rect x='1707.7' y='576.5' width='83.7' height='22' rx='4' fill='url(#cardg)' stroke='#76849a' stroke-width='1.3'/>
<rect x='1708.4' y='577.2' width='82.3' height='20.6' rx='3.5' fill='#7d8fa6' opacity='0.031'/>
<rect x='1710.3' y='585.0' width='85.3' height='22' rx='4' fill='url(#cardg)' stroke='#76849a' stroke-width='1.3'/>
<rect x='1711.0' y='585.7' width='83.9' height='20.6' rx='3.5' fill='#7d8fa6' opacity='0.013'/>
<rect x='1713' y='593.5' width='87' height='62' rx='5' fill='url(#frontcard)' stroke='#8794a5' stroke-width='1.2'/>
<circle cx='1727' cy='607' r='7' fill='#f3f3f5' stroke='#b4b8bf' stroke-width='1.8'/>
<circle cx='1727' cy='605' r='2.2' fill='#a7abb3'/>
<path d='M1723.2 611.5 Q1723.2 607.8 1727 607.8 Q1730.8 607.8 1730.8 611.5 Z' fill='#a7abb3'/>
<rect x='1742' y='602.1' width='50' height='3.2' rx='1.5' fill='#ccd0d6'/>
<rect x='1742' y='611.6' width='50' height='3.2' rx='1.5' fill='#ccd0d6'/>
<rect x='1742' y='621.0' width='50' height='3.2' rx='1.5' fill='#ccd0d6'/>
<rect x='1742' y='630.4' width='50' height='3.2' rx='1.5' fill='#ccd0d6'/>
<rect x='1742' y='639.8' width='50' height='3.2' rx='1.5' fill='#ccd0d6'/>
<path d='M1344.5 700 L1791.5 700 L1791.5 841.5 Q1791.5 855.5 1777.5 855.5 L1358.5 855.5 Q1344.5 855.5 1344.5 841.5 Z' fill='url(#d2g)' stroke='#3b526e' stroke-width='3.4'/>
<rect x='1344.5' y='868.4' width='447' height='115.20000000000005' rx='14' fill='url(#panelD)' stroke='#3b526e' stroke-width='3.4'/>
<path d='M1350 883.4 Q1350 872.4 1362 872.4 L1774 872.4 Q1786 872.4 1786 883.4' fill='none' stroke='#7f9aba' stroke-width='2'/>
<rect x='1344.5' y='996.5' width='447' height='115.5' rx='14' fill='url(#panelD)' stroke='#3b526e' stroke-width='3.4'/>
<path d='M1350 1011.5 Q1350 1000.5 1362 1000.5 L1774 1000.5 Q1786 1000.5 1786 1011.5' fill='none' stroke='#7f9aba' stroke-width='2'/>
<g filter='url(#blur2)' opacity='0.55'><rect x='1499.5' y='790.5' width='137.9000000000001' height='22.0' rx='13.0' fill='#2c4262'/></g>
<circle cx='1508.5' cy='795.5' r='13.0' fill='#3b526e'/><circle cx='1628.4' cy='795.5' r='13.0' fill='#3b526e'/>
<rect x='1508.5' y='788.22' width='119.90000000000009' height='20.279999999999973' fill='#3b526e'/>
<circle cx='1508.5' cy='795.5' r='9.8' fill='url(#handleg2)'/><circle cx='1628.4' cy='795.5' r='9.8' fill='url(#handleg2)'/>
<rect x='1508.5' y='792.02' width='119.90000000000009' height='13.279999999999927' fill='url(#handleg2)'/>
<g filter='url(#blur2)' opacity='0.55'><rect x='1500' y='919.5' width='136.4000000000001' height='21.5' rx='12.75' fill='#2c4262'/></g>
<circle cx='1508.75' cy='924.25' r='12.75' fill='#3b526e'/><circle cx='1627.65' cy='924.25' r='12.75' fill='#3b526e'/>
<rect x='1508.75' y='917.11' width='118.90000000000009' height='19.889999999999986' fill='#3b526e'/>
<circle cx='1508.75' cy='924.25' r='9.55' fill='url(#handleg)'/><circle cx='1627.65' cy='924.25' r='9.55' fill='url(#handleg)'/>
<rect x='1508.75' y='920.91' width='118.90000000000009' height='12.88999999999994' fill='url(#handleg)'/>
<g filter='url(#blur2)' opacity='0.55'><rect x='1500' y='1047.7' width='136.4000000000001' height='22.299999999999955' rx='13.149999999999977' fill='#2c4262'/></g>
<circle cx='1509.15' cy='1052.85' r='13.149999999999977' fill='#3b526e'/><circle cx='1627.25' cy='1052.85' r='13.149999999999977' fill='#3b526e'/>
<rect x='1509.15' y='1045.486' width='118.09999999999991' height='20.513999999999896' fill='#3b526e'/>
<circle cx='1509.15' cy='1052.85' r='9.949999999999978' fill='url(#handleg)'/><circle cx='1627.25' cy='1052.85' r='9.949999999999978' fill='url(#handleg)'/>
<rect x='1509.15' y='1049.286' width='118.09999999999991' height='13.51399999999985' fill='url(#handleg)'/>
<g filter='url(#blur4)' opacity='0.5'><rect x='1330' y='758' width='476' height='16' fill='#34496a'/></g>
<path d='M1313 622 L1452 622 C1467 622 1468 648 1484 648 L1652 648 C1668 648 1669 622 1684 622 L1824 622 Q1836 622 1836 634 L1836 748 Q1836 760 1824 760 L1313 760 Q1301 760 1301 748 L1301 634 Q1301 622 1313 622 Z' fill='url(#drawg)' stroke='#3b526e' stroke-width='3.6' stroke-linejoin='round'/>
<path d='M1306 636 Q1306 626.5 1315 626.5 L1451 626.5 C1465 626.5 1467 652.5 1484 652.5 L1652 652.5 C1669 652.5 1671 626.5 1685 626.5 L1822 626.5 Q1831 626.5 1831 636' fill='none' stroke='#7f9bbc' stroke-width='2.2'/>
<g filter='url(#blur2)' opacity='0.55'><rect x='1494' y='692' width='149' height='23' rx='13.5' fill='#2c4262'/></g>
<circle cx='1503.5' cy='697.5' r='13.5' fill='#3b526e'/><circle cx='1633.5' cy='697.5' r='13.5' fill='#3b526e'/>
<rect x='1503.5' y='689.94' width='130.0' height='21.059999999999945' fill='#3b526e'/>
<circle cx='1503.5' cy='697.5' r='10.3' fill='url(#handleg)'/><circle cx='1633.5' cy='697.5' r='10.3' fill='url(#handleg)'/>
<rect x='1503.5' y='693.74' width='130.0' height='14.0599999999999' fill='url(#handleg)'/>
<g filter='url(#softsh)'>
<rect x='1031.5' y='1041.5' width='256' height='112.5' rx='17' fill='#ffffff'/>
<path d='M1286 1082 L1299.5 1096.5 L1286 1111 Z' fill='#ffffff'/>
</g>
<rect x='1056.4' y='1063.2' width='22.6' height='3.2' rx='1.3' fill='#2a78c0'/>
<path d='M1053.4 1068.6 L1082 1068.6 L1082 1086 Q1082 1089 1079 1089 L1056.4 1089 Q1053.4 1089 1053.4 1086 Z' fill='#2a78c0'/>
<rect x='1063.4' y='1074.8' width='9.4' height='3.4' rx='1.6' fill='#ffffff'/>
<text x='1095.3' y='1085.75' font-size='26.7' font-weight='normal' fill='#2a6ba8' textLength='169.88' lengthAdjust='spacingAndGlyphs' >Archive = Safe</text>
<rect x='1063' y='1104.2' width='8.6' height='5' rx='2' fill='#d6392e'/>
<rect x='1055' y='1108.4' width='24.6' height='3.4' rx='1.5' fill='#d6392e'/>
<path d='M1057 1112.5 L1078.4 1112.5 L1076.6 1130 Q1076.4 1132.2 1074 1132.2 L1061.4 1132.2 Q1059 1132.2 1058.8 1130 Z' fill='#d6392e'/>
<rect x='1062.3' y='1116.5' width='1.8' height='12' rx='0.9' fill='#f6d3cf'/>
<rect x='1066.8' y='1116.5' width='1.8' height='12' rx='0.9' fill='#f6d3cf'/>
<rect x='1071.3' y='1116.5' width='1.8' height='12' rx='0.9' fill='#f6d3cf'/>
<text x='1093.69' y='1127.6' font-size='25.8' font-weight='normal' fill='#c63f35' textLength='167.89' lengthAdjust='spacingAndGlyphs' >Delete = Gone</text>
<text x='1316.37' y='1241' font-size='27.7' font-weight='normal' fill='#6c7178' textLength='505.42' lengthAdjust='spacingAndGlyphs' >Thousands stored • Instantly searchable</text>
<g transform='translate(115 1170)' stroke-linejoin='round' stroke-linecap='round'>
<circle cx='147.9' cy='24.2' r='16.1' fill='#f07b5f'/>
<circle cx='141.8' cy='21' r='1.7' fill='#4f2620'/><circle cx='153.8' cy='21' r='1.7' fill='#4f2620'/>
<path d='M141.2 31 Q147.6 24.8 154.2 31' fill='none' stroke='#4f2620' stroke-width='2'/>
<path d='M8.8 33.4 L46 33.4' stroke='#8b3a33' stroke-width='1.9'/>
<path d='M8.8 38.6 L46 38.6' stroke='#8b3a33' stroke-width='1.9'/>
<path d='M8.8 43.7 L46 43.7' stroke='#8b3a33' stroke-width='1.9'/>
<path d='M37 28.5 L40 25 L42 28.5 Z' fill='#d9d4d0'/>
<path d='M42.6 26.5 Q45 19.5 50.2 23.5 L52.6 28' fill='none' stroke='#8b3a33' stroke-width='1.7'/>
<path d='M50 28.6 L53.2 29.6 L53.6 26' fill='none' stroke='#8b3a33' stroke-width='1.5'/>
<path d='M118.6 47.8 Q126 54.8 155.4 55.3' fill='none' stroke='#8b3a33' stroke-width='1.9'/>
<path d='M119.5 59.9 L152.5 59.9' stroke='#8b3a33' stroke-width='1.9'/>
<path d='M120.5 64.5 L157 64.5' stroke='#8b3a33' stroke-width='1.9'/>
<path d='M121 69.1 L158.5 69.1' stroke='#8b3a33' stroke-width='1.9'/>
<path d='M122 73.7 L156.5 73.7' stroke='#8b3a33' stroke-width='1.9'/>
<g >
<rect x='10.9' y='48.9' width='40.9' height='15' rx='2' fill='#f6b862' stroke='#95551f' stroke-width='1.8'/>
<rect x='26.5' y='53.8' width='19.5' height='5.2' rx='1' fill='#fdf7f2'/>
<circle cx='18.4' cy='56.4' r='2.3' fill='#fdf7f2' stroke='#95551f' stroke-width='1.4'/>
</g>
<g >
<rect x='17.3' y='63.9' width='41.4' height='13.8' rx='2' fill='#5e9dd8' stroke='#2c5d93' stroke-width='1.8'/>
<rect x='32.2' y='67.8' width='23' height='5.8' rx='1' fill='#fdf7f2'/>
<circle cx='24.8' cy='70.8' r='2.3' fill='#fdf7f2' stroke='#2c5d93' stroke-width='1.4'/>
</g>
<g >
<rect x='60.4' y='33.4' width='13.3' height='44.9' rx='2' fill='#ef7b5e' stroke='#8b3a33' stroke-width='1.8'/>
<rect x='64.2' y='37' width='5.8' height='25' rx='1' fill='#fdf7f2'/>
<circle cx='67.3' cy='70.8' r='2.3' fill='#fdf7f2' stroke='#8b3a33' stroke-width='1.4'/>
</g>
<g >
<rect x='75.4' y='33.4' width='14.4' height='44.9' rx='2' fill='#5e9dd8' stroke='#2c5d93' stroke-width='1.8'/>
<rect x='79' y='37' width='6.6' height='25' rx='1' fill='#fdf7f2'/>
<circle cx='82.3' cy='69.7' r='2.3' fill='#fdf7f2' stroke='#2c5d93' stroke-width='1.4'/>
</g>
<g transform='rotate(-17 102.9 56)'>
<rect x='96.5' y='34' width='12.8' height='44' rx='2' fill='#f6b862' stroke='#95551f' stroke-width='1.8'/>
<rect x='100.3' y='37.5' width='5.4' height='24' rx='1' fill='#fdf7f2'/>
<circle cx='102.9' cy='70' r='2.3' fill='#fdf7f2' stroke='#95551f' stroke-width='1.4'/>
</g>
<rect x='20.7' y='86' width='8.1' height='64.8' rx='3.5' fill='#dfaca4' stroke='#8b3a33' stroke-width='1.8'/>
<rect x='140.5' y='86' width='9.2' height='64.8' rx='3.5' fill='#dfaca4' stroke='#8b3a33' stroke-width='1.8'/>
<rect x='101.3' y='86' width='39.2' height='38.3' rx='3' fill='#dfaca4' stroke='#8b3a33' stroke-width='1.8'/>
<path d='M101.3 105.9 L140.5 105.9' stroke='#8b3a33' stroke-width='1.8'/>
<path d='M117.4 95.6 L125.5 95.6 M117.4 114 L125.5 114' stroke='#8b3a33' stroke-width='1.8'/>
<rect x='11.5' y='78.3' width='146.2' height='10.3' rx='4.5' fill='#dfaca4' stroke='#8b3a33' stroke-width='1.8'/>
<path d='M65.8 91.7 L74.8 78.6 L105.2 79.1 L89.5 106.9 Z' fill='#fcf6f2' stroke='#8b3a33' stroke-width='1.9'/>
<path d='M79.2 85.1 L91.4 92.3 M75.1 88.8 L88.3 97.3' stroke='#8b3a33' stroke-width='1.8'/>
<path d='M81.2 143.3 L102.5 133.5 L131.2 144.5 L110.5 156.6 Z' fill='#fdf7f2' stroke='#8b3a33' stroke-width='1.8'/>
<path d='M95.5 142 L104.5 138 M99.5 147 L108.5 143' stroke='#8b3a33' stroke-width='1.6'/>
<g >
<rect x='29.4' y='105.3' width='14.9' height='44.9' rx='2' fill='#ee6d57' stroke='#8b3a33' stroke-width='1.8'/>
<rect x='33.4' y='110' width='6.8' height='25' rx='1' fill='#fdf7f2'/>
<circle cx='36.8' cy='143.3' r='2.3' fill='#fdf7f2' stroke='#8b3a33' stroke-width='1.4'/>
</g>
<g transform='rotate(-23 59.5 127.6)'>
<rect x='53.6' y='105.4' width='11.8' height='44.3' rx='2' fill='#5e9dd8' stroke='#2c5d93' stroke-width='1.8'/>
<rect x='56.9' y='109.5' width='5.2' height='25' rx='1' fill='#fdf7f2'/>
<circle cx='59.5' cy='141.5' r='2.3' fill='#fdf7f2' stroke='#2c5d93' stroke-width='1.4'/>
</g>
</g>
<g transform='translate(400 1180)' stroke-linejoin='round' stroke-linecap='round'>
<path d='M21.5 46.4 L57 46.4' stroke='#4a6a53' stroke-width='2.6'/>
<path d='M21.5 52.1 L57 52.1' stroke='#4a6a53' stroke-width='2.6'/>
<path d='M21.5 57.9 L57 57.9' stroke='#4a6a53' stroke-width='2.6'/>
<path d='M21.5 63 L57 63' stroke='#4a6a53' stroke-width='2.6'/>
<rect x='22.9' y='76' width='9.2' height='65' rx='4.5' fill='#d3e9d6' stroke='#4d7858' stroke-width='2'/>
<rect x='120.9' y='76' width='9.7' height='65' rx='4.5' fill='#d3e9d6' stroke='#4d7858' stroke-width='2'/>
<rect x='12.6' y='68.4' width='127.2' height='10.7' rx='5' fill='#cfe6d3' stroke='#4d7858' stroke-width='2.1'/>
<circle cx='114' cy='33.8' r='16.6' fill='#a9dcb0'/>
<path d='M106.8 34.6 L112.3 40.5 L122.4 28.3' fill='none' stroke='#1e5a31' stroke-width='3.3'/>
<rect x='147.8' y='12.8' width='59' height='128.2' rx='7' fill='#d6eed9' stroke='#4d7858' stroke-width='2.5'/>
<rect x='154.1' y='19.5' width='46.4' height='115.1' rx='4.5' fill='#cde7d1' stroke='#4d7858' stroke-width='2.2'/>
<path d='M154.1 48.7 L200.5 48.7' stroke='#4d7858' stroke-width='2.2'/>
<path d='M154.1 77.3 L200.5 77.3' stroke='#4d7858' stroke-width='2.2'/>
<path d='M154.1 105.4 L200.5 105.4' stroke='#4d7858' stroke-width='2.2'/>
<path d='M169 34.4 L185.6 34.4' stroke='#4d7858' stroke-width='2.2'/>
<path d='M169 63 L185.6 63' stroke='#4d7858' stroke-width='2.2'/>
<path d='M169 91.4 L185.6 91.4' stroke='#4d7858' stroke-width='2.2'/>
<path d='M169 119.7 L185.6 119.7' stroke='#4d7858' stroke-width='2.2'/>
</g>
</svg>
</body></html>
